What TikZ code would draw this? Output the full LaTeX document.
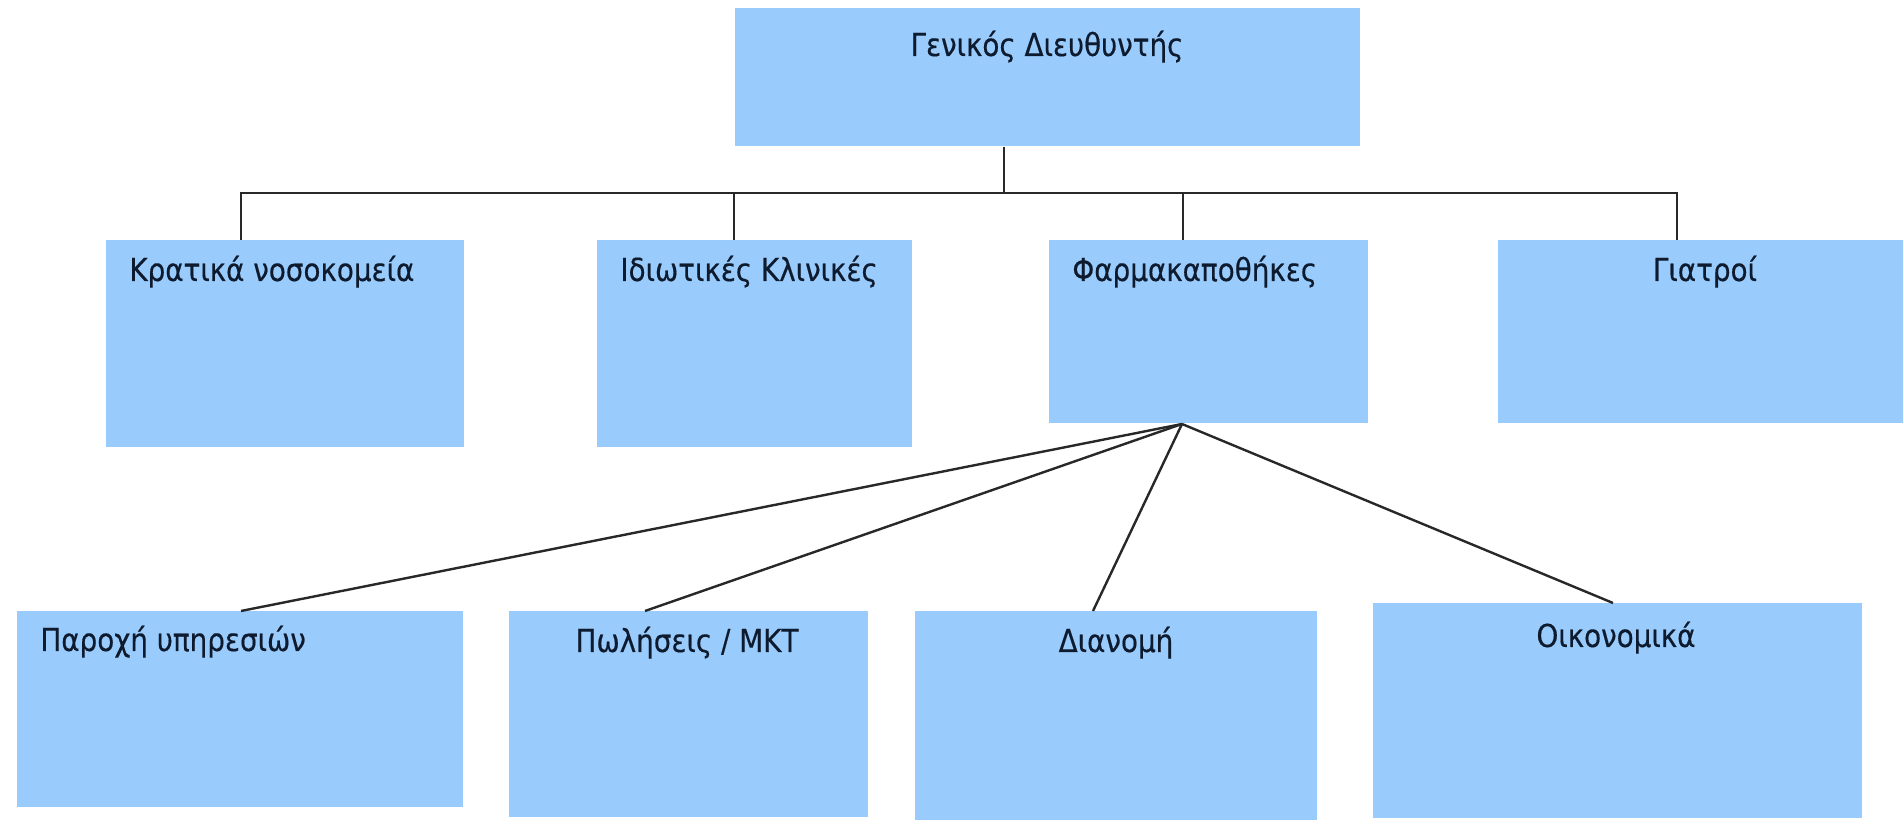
\documentclass[tikz,border=0pt]{standalone}
\usepackage{fontspec}
\setmainfont{DejaVu Sans}[FakeStretch=0.88,FakeBold=0.4]
\definecolor{boxblue}{RGB}{153,204,252}
\definecolor{txt}{RGB}{14,26,46}
\definecolor{ln}{RGB}{40,40,40}
\tikzset{
  box/.style={draw=none,fill=boxblue,rectangle,inner sep=0pt,anchor=north west},
  lbl/.style={inner sep=0pt,text=txt,font=\fontsize{15.8}{19}\selectfont},
  conn/.style={draw=ln,line width=1.2pt},
}
\newcommand{\bx}[5]{\node[box,minimum width={(#4-#2)*0.5pt},minimum height={(#5-#3)*0.5pt}] (#1) at (#2,#3) {};}
\begin{document}
\begin{tikzpicture}[x=0.5pt,y=-0.5pt]
\useasboundingbox[fill=white] (0,0) rectangle (1903,822);
% boxes
\bx{top}{735}{8}{1360}{146}
\bx{k}{106}{240}{464}{447}
\bx{i}{597}{240}{912}{447}
\bx{f}{1049}{240}{1368}{423}
\bx{g}{1498}{240}{1903}{423}
\bx{p}{17}{611}{463}{807}
\bx{s}{509}{611}{868}{817}
\bx{d}{915}{611}{1317}{820}
\bx{o}{1373}{603}{1862}{818}
% labels
\node[lbl,anchor=base] (topt) at (1047,56) {Γενικός Διευθυντής};
\node[lbl,anchor=base west] (kt) at (129,281) {Κρατικά νοσοκομεία};
\node[lbl,anchor=base west] (it) at (620,281) {Ιδιωτικές Κλινικές};
\node[lbl,anchor=base west] (ft) at (1072,281) {Φαρμακαποθήκες};
\node[lbl,anchor=base] (gt) at (1705,281) {Γιατροί};
\node[lbl,anchor=base west] (pt) at (40,651) {Παροχή υπηρεσιών};
\node[lbl,anchor=base] (st) at (687,652) {Πωλήσεις / ΜΚΤ};
\node[lbl,anchor=base] (dt) at (1116,652) {Διανομή};
\node[lbl,anchor=base] (ot) at (1616,647) {Οικονομικά};
% connector coordinates
\coordinate (bus) at (1004,193);
\coordinate (fan) at (1182,424);
\coordinate (bk) at (241,193);
\coordinate (bi) at (734,193);
\coordinate (bf) at (1183,193);
\coordinate (bg) at (1677,193);
% tree connectors
\draw[conn] (top.south -| bus) -- (bus);
\draw[conn] (k.north -| bk) -- (bk) -- (bg) -- (g.north -| bg);
\draw[conn] (bi) -- (i.north -| bi);
\draw[conn] (bf) -- (f.north -| bf);
\draw[conn] (fan) -- (p.north -| 241,0);
\draw[conn] (fan) -- (s.north -| 645,0);
\draw[conn] (fan) -- (d.north -| 1093,0);
\draw[conn] (fan) -- (o.north -| 1613,0);
\end{tikzpicture}
\end{document}
